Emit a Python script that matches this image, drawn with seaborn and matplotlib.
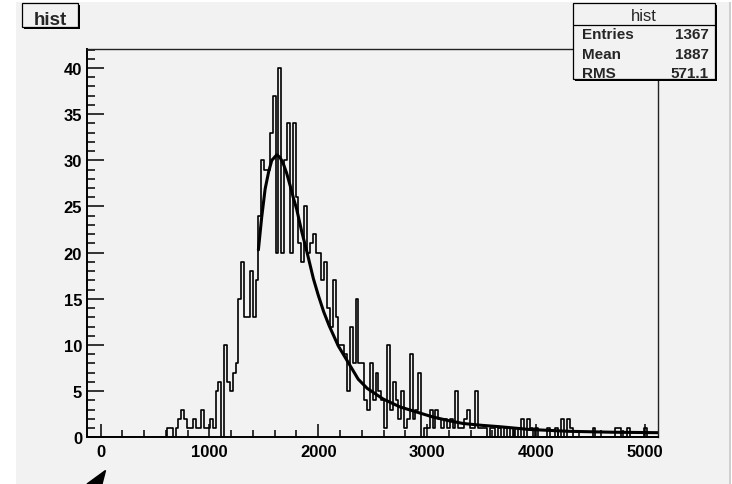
import matplotlib
matplotlib.use("Agg")
import matplotlib.pyplot as plt
import seaborn as sns
import numpy as np
import pandas as pd
from matplotlib.patches import Rectangle, Polygon
from matplotlib.lines import Line2D
from matplotlib.ticker import MultipleLocator, FixedLocator

# ---------------- data ----------------
bin_lo = -125.0
bin_hi = 5125.0
n_bins = 200

counts = [
    0, 0, 0, 0, 0, 0, 0, 0, 0, 0, 0, 0, 0, 0, 0, 0, 0, 0, 0, 0,          # 0-19
    0, 0, 0, 0, 0, 0, 0, 0, 1, 1, 0, 1, 2, 3, 2, 1, 1, 2, 1, 1,          # 20-39
    3, 1, 1, 2, 1, 5, 6, 0, 10, 6, 5, 7, 8, 15, 19, 13, 13, 18, 13, 17,  # 40-59
    24, 30, 29, 29, 33, 37, 20, 40, 20, 30, 34, 20, 34, 26, 21, 19, 25, 20, 21, 22,  # 60-79
    20, 20, 17, 19, 14, 12, 17, 13, 10, 10, 9, 5, 12, 8, 15, 8, 8, 4, 3, 8,  # 80-99
    4, 7, 5, 4, 1, 10, 3, 6, 4, 2, 5, 1, 2, 9, 2, 3, 7, 0, 1, 1,        # 100-119
    3, 1, 3, 2, 1, 2, 1, 2, 1, 5, 1, 1, 2, 3, 1, 1, 5, 1, 1, 1,         # 120-139
    0, 1, 1, 0, 1, 0, 1, 0, 1, 0, 1, 0, 2, 0, 2, 1, 0, 1, 0, 0,         # 140-159
    0, 1, 0, 0, 1, 0, 2, 0, 2, 1, 0, 0, 0, 0, 0, 0, 0, 1, 0, 0,         # 160-179
    0, 0, 0, 0, 0, 1, 1, 0, 0, 1, 0, 0, 0, 0, 0, 1, 0, 0, 0, 0,         # 180-199
]

fit_x = [1450, 1480, 1512, 1545, 1573, 1619, 1650, 1680, 1710, 1741, 1770,
         1802, 1850, 1900, 1955, 2000, 2050, 2100, 2184, 2291, 2367, 2450,
         2596, 2750, 2886, 3054, 3200, 3329, 3500, 3665, 3940, 4300, 4700, 5125]
fit_y = [20.3, 23.8, 26.9, 28.8, 30.0, 30.6, 30.3, 29.6, 28.6, 27.3, 26.0,
         24.7, 22.2, 19.9, 17.2, 15.4, 13.6, 12.1, 9.9, 7.8, 6.3, 5.3,
         4.15, 3.3, 2.8, 2.2, 1.8, 1.5, 1.3, 1.15, 0.85, 0.65, 0.55, 0.5]

x_ticks = [0, 1000, 2000, 3000, 4000, 5000]
y_ticks = [0, 5, 10, 15, 20, 25, 30, 35, 40]

title_text = "hist"
stat_names = ["Entries", "Mean", "RMS"]
stat_values = ["1367", "1887", "571.1"]

# ---------------- style ----------------
BG = "#f2f2f2"
sns.set_theme(style="white")
plt.rcParams["font.family"] = ["Liberation Sans", "DejaVu Sans"]
plt.rcParams["font.weight"] = "bold"

W, H = 732, 485
fig = plt.figure(figsize=(W / 100, H / 100), dpi=100, facecolor="white")


def fx(x):
    return x / W


def fy(y):
    return 1 - y / H


def rect(x0, y0, x1, y1, **kw):
    r = Rectangle((fx(x0), fy(y1)), fx(x1) - fx(x0), fy(y0) - fy(y1),
                  transform=fig.transFigure, **kw)
    fig.add_artist(r)
    return r


# canvas
rect(16, 3, 729, 485, facecolor=BG, edgecolor="none", zorder=-5)
rect(729, 3, 731, 485, facecolor="#cfcfcf", edgecolor="none", zorder=-5)

ax = fig.add_axes([fx(87), fy(438.3), fx(658.3) - fx(87), fy(50) - fy(438.3)])
ax.set_facecolor(BG)

bin_w = (bin_hi - bin_lo) / n_bins
centers = bin_lo + bin_w * (np.arange(n_bins) + 0.5)
hist_df = pd.DataFrame({"x": centers, "n": np.asarray(counts, dtype=float)})
fit_df = pd.DataFrame({"x": fit_x, "y": fit_y})

sns.histplot(data=hist_df, x="x", weights="n", binwidth=bin_w,
             binrange=(bin_lo, bin_hi), element="step",
             fill=False, color="black", linewidth=1.2, ax=ax)
sns.lineplot(data=fit_df, x="x", y="y", color="black", linewidth=2.2, ax=ax)

ax.set_xlim(bin_lo, bin_hi)
ax.set_ylim(0, 42.06)
ax.set_xlabel("")
ax.set_ylabel("")

ax.xaxis.set_major_locator(FixedLocator(x_ticks))
ax.xaxis.set_minor_locator(MultipleLocator(200))
ax.yaxis.set_major_locator(FixedLocator(y_ticks))
ax.yaxis.set_minor_locator(MultipleLocator(1))
ax.set_xticklabels([str(v) for v in x_ticks])
ax.set_yticklabels([str(v) for v in y_ticks])

ax.tick_params(axis="x", which="major", direction="in", length=9.5, width=1.1,
               pad=4.5, labelsize=12, bottom=True, top=False, colors="black")
ax.tick_params(axis="x", which="minor", direction="in", length=5, width=1.1,
               bottom=True, top=False, colors="black")
ax.tick_params(axis="y", which="major", direction="in", length=12, width=1.1,
               pad=3.5, labelsize=12, left=True, right=False, colors="black")
ax.tick_params(axis="y", which="minor", direction="in", length=6, width=1.1,
               left=True, right=False, colors="black")
for lbl in ax.get_xticklabels() + ax.get_yticklabels():
    lbl.set_fontweight("bold")

for side in ["left", "bottom"]:
    ax.spines[side].set_linewidth(1.4)
    ax.spines[side].set_color("black")
for side in ["top", "right"]:
    ax.spines[side].set_linewidth(1.0)
    ax.spines[side].set_color("#222222")

# title box with shadow
rect(24.3, 6, 79.7, 30.3, facecolor="black", edgecolor="none", zorder=6)
rect(22.3, 4, 77.7, 28.3, facecolor=BG, edgecolor="black", linewidth=0.9, zorder=7)
fig.text(fx(50), fy(25), title_text, ha="center", va="baseline",
         fontsize=13.5, fontweight="bold", zorder=8)

# stats box with shadow
rect(575, 6.3, 717.3, 82.3, facecolor="black", edgecolor="none", zorder=6)
rect(572.7, 4, 715, 80, facecolor=BG, edgecolor="black", linewidth=0.9, zorder=7)
fig.add_artist(Line2D([fx(572.7), fx(715)], [fy(26), fy(26)], color="black",
                      linewidth=0.9, transform=fig.transFigure, zorder=8))
fig.text(fx(643.9), fy(20.7), title_text, ha="center", va="baseline",
         fontsize=12, fontweight="normal", zorder=8)
for name, val, base in zip(stat_names, stat_values, [39.3, 59.3, 78.0]):
    fig.text(fx(581.7), fy(base), name, ha="left", va="baseline",
             fontsize=11, fontweight="bold", zorder=8)
    fig.text(fx(709), fy(base), val, ha="right", va="baseline",
             fontsize=11, fontweight="bold", zorder=8)

# arrow head at lower-left
fig.add_artist(Polygon([[fx(105.5), fy(471.5)], [fx(87), fy(485)], [fx(102), fy(485)]],
                       closed=True, facecolor="black", edgecolor="black",
                       transform=fig.transFigure, zorder=8))

fig.savefig("out.png", dpi=100, facecolor="white")
